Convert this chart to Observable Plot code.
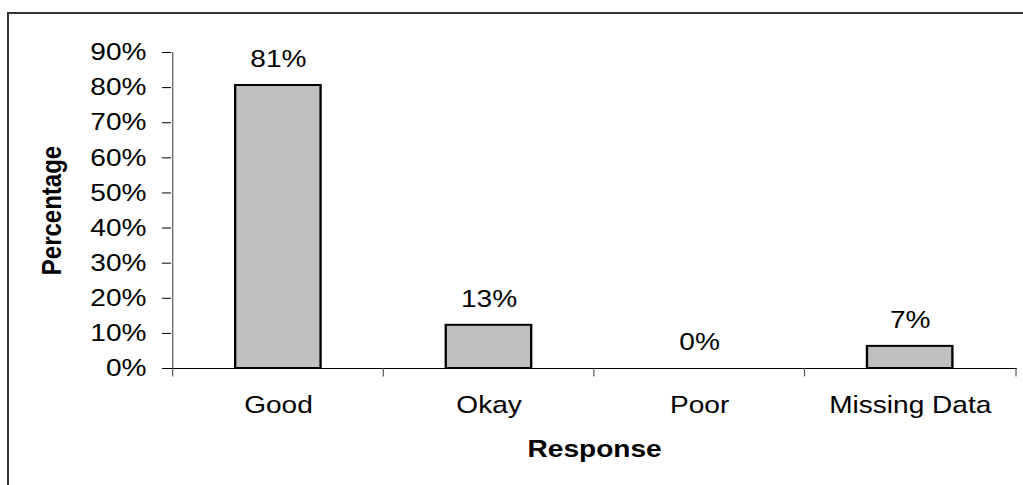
<!DOCTYPE html>
<html>
<head>
<meta charset="utf-8">
<script src="https://cdn.jsdelivr.net/npm/d3@7"></script>
<script src="https://cdn.jsdelivr.net/npm/@observablehq/plot@0.6"></script>
<style>
  html, body { margin: 0; padding: 0; overflow: hidden; background: #fff; width: 1023px; height: 485px; }
  #border { position: absolute; left: 7px; top: 12px; width: 2000px; height: 2000px;
            border-left: 2px solid #333; border-top: 2px solid #333; }
  #chart { position: absolute; left: 0; top: 0; transform: scaleX(1.17); transform-origin: 0 0; }
</style>
</head>
<body>
<div id="border"></div>
<div id="chart"></div>
<script>
// ---- data ----
const categories = ["Good", "Okay", "Poor", "Missing Data"];
const percentages = [80.6, 12.3, 0, 6.3];
const valueLabels = ["81%", "13%", "0%", "7%"];
const yTicks = [0, 10, 20, 30, 40, 50, 60, 70, 80, 90];
const xTitle = "Response";
const yTitle = "Percentage";

const data = categories.map((c, i) => ({category: c, value: percentages[i], label: valueLabels[i]}));

// ---- layout (SVG units; page is stretched horizontally by 1.17) ----
const W = 875, H = 485;
const mL = 146.15, mR = 5.77, mT = 52, mB = 117;
const step = (W - mL - mR) / categories.length;
const font = "'Liberation Sans', Arial, sans-serif";

const chart = Plot.plot({
  width: W,
  height: H,
  marginLeft: mL,
  marginRight: mR,
  marginTop: mT,
  marginBottom: mB,
  style: {fontFamily: font, fontSize: "24px", color: "#000", background: "transparent"},
  x: {domain: categories, paddingInner: 0.593, paddingOuter: 0.2965, tickSize: 0, tickPadding: 27, label: null},
  y: {domain: [0, 90], ticks: yTicks, tickSize: 7.7, tickPadding: 13.7, tickFormat: d => d + "%", label: null},
  marks: [
    Plot.barY(data, {x: "category", y: "value", fill: "#c0c0c0", stroke: "#000", strokeWidth: 2}),
    Plot.ruleY([0], {stroke: "#000", strokeWidth: 1}),
    // y axis line
    Plot.ruleX([categories[0]], {x: d => d, dx: -step / 2, y1: -2.4, y2: 90, stroke: "#555", strokeWidth: 1}),
    // category boundary ticks
    Plot.ruleX(categories.slice(1), {x: d => d, dx: -step / 2, y1: -2.4, y2: 0, stroke: "#555", strokeWidth: 1}),
    Plot.ruleX([categories[categories.length - 1]], {x: d => d, dx: step / 2, y1: -2.4, y2: 0, stroke: "#555", strokeWidth: 1}),
    // value labels
    Plot.text(data, {x: "category", y: "value", text: "label", dy: -26, lineAnchor: "middle", fontSize: 24, fill: "#000"}),
    // axis titles
    Plot.text([xTitle], {frameAnchor: "bottom", dy: 81, textAnchor: "middle", lineAnchor: "middle", fontSize: 24, fontWeight: "bold", fill: "#000"}),
    Plot.text([yTitle], {frameAnchor: "left", dx: -102, rotate: -90, textAnchor: "middle", lineAnchor: "middle", fontSize: 24, fontWeight: "bold", fill: "#000"})
  ]
});
document.getElementById("chart").appendChild(chart);
</script>
</body>
</html>
